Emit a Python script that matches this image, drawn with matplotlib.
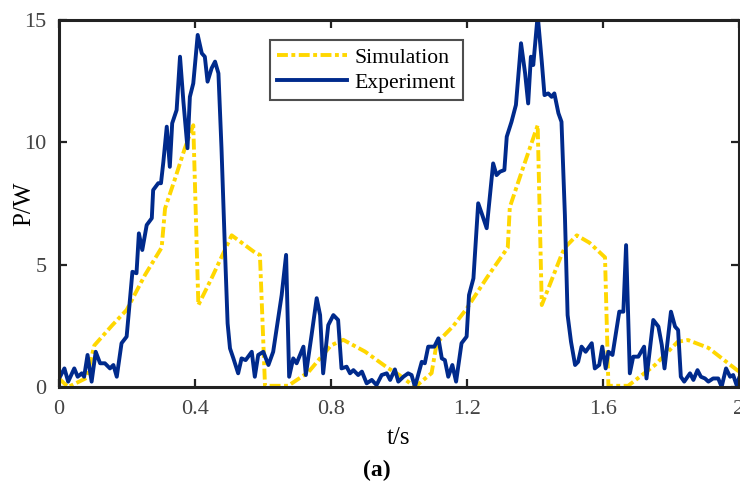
import matplotlib
matplotlib.use("Agg")
import matplotlib.pyplot as plt

plt.rcParams['font.family'] = ['Liberation Serif', 'DejaVu Serif']

# simulated power over two cycles
t_sim = [0.0, 0.027, 0.081, 0.104, 0.155, 0.199, 0.253, 0.302, 0.312, 0.341,
         0.37, 0.395, 0.41, 0.449, 0.508, 0.547, 0.576, 0.591, 0.606, 0.674,
         0.733, 0.80, 0.836, 0.9, 0.968, 1.0, 1.047, 1.096, 1.111, 1.16,
         1.199, 1.26, 1.32, 1.326, 1.361, 1.408, 1.42, 1.478, 1.488, 1.523,
         1.56, 1.606, 1.616, 1.674, 1.753, 1.82, 1.85, 1.91, 2.0]
p_sim = [0.35, 0.0, 0.37, 1.7, 2.5, 3.15, 4.58, 5.7, 7.3, 8.5,
         9.75, 10.7, 3.35, 4.45, 6.2, 5.8, 5.5, 5.4, 0.05, 0.05,
         0.6, 1.7, 1.93, 1.45, 0.77, 0.5, 0.0, 0.57, 1.8, 2.5,
         3.2, 4.5, 5.7, 7.35, 8.8, 10.7, 3.35, 5.4, 5.7, 6.2,
         5.9, 5.3, 0.05, 0.05, 0.9, 1.85, 1.92, 1.6, 0.63]

# measured power
t_exp = [0.003, 0.016, 0.027, 0.045, 0.055, 0.067, 0.074, 0.084, 0.096, 0.108,
         0.121, 0.135, 0.15, 0.16, 0.17, 0.184, 0.199, 0.216, 0.228, 0.235,
         0.245, 0.258, 0.273, 0.277, 0.292, 0.3, 0.307, 0.317, 0.326, 0.333,
         0.346, 0.356, 0.366, 0.378, 0.385, 0.395, 0.408, 0.42, 0.429, 0.437,
         0.449, 0.459, 0.469, 0.478, 0.488, 0.496, 0.503, 0.513, 0.527, 0.537,
         0.549, 0.567, 0.576, 0.586, 0.601, 0.616, 0.63, 0.655, 0.668, 0.677,
         0.689, 0.699, 0.719, 0.726, 0.743, 0.758, 0.768, 0.777, 0.792, 0.807,
         0.821, 0.831, 0.846, 0.856, 0.866, 0.88, 0.891, 0.905, 0.92, 0.934,
         0.949, 0.964, 0.974, 0.988, 0.998, 1.013, 1.027, 1.037, 1.047, 1.067,
         1.076, 1.086, 1.104, 1.116, 1.126, 1.135, 1.145, 1.157, 1.168, 1.184,
         1.199, 1.206, 1.219, 1.233, 1.245, 1.258, 1.277, 1.287, 1.297, 1.31,
         1.317, 1.331, 1.344, 1.359, 1.371, 1.38, 1.388, 1.395, 1.408, 1.42,
         1.428, 1.439, 1.449, 1.457, 1.469, 1.478, 1.488, 1.496, 1.506, 1.518,
         1.527, 1.537, 1.549, 1.567, 1.576, 1.589, 1.598, 1.608, 1.616, 1.628,
         1.648, 1.66, 1.668, 1.679, 1.689, 1.704, 1.721, 1.728, 1.748, 1.763,
         1.773, 1.781, 1.8, 1.812, 1.821, 1.829, 1.839, 1.856, 1.866, 1.878,
         1.888, 1.9, 1.91, 1.924, 1.939, 1.949, 1.962, 1.974, 1.983, 1.993,
         2.0]
p_exp = [0.42, 0.76, 0.22, 0.76, 0.42, 0.56, 0.42, 1.31, 0.22, 1.44,
         0.97, 0.97, 0.76, 0.9, 0.42, 1.79, 2.06, 4.71, 4.65, 6.28,
         5.6, 6.62, 6.9, 8.05, 8.33, 8.33, 9.2, 10.64, 9.0, 10.78,
         11.32, 13.5, 11.66, 9.76, 11.86, 12.41, 14.39, 13.64, 13.5, 12.48,
         13.03, 13.3, 12.82, 9.76, 5.67, 2.6, 1.58, 1.17, 0.56, 1.17,
         1.1, 1.44, 0.42, 1.31, 1.44, 0.9, 1.44, 3.76, 5.4, 0.42,
         1.17, 0.97, 1.65, 0.49, 2.13, 3.63, 2.94, 0.56, 2.53, 2.94,
         2.74, 0.76, 0.83, 0.56, 0.69, 0.49, 0.63, 0.15, 0.29, 0.08,
         0.49, 0.56, 0.29, 0.72, 0.22, 0.42, 0.56, 0.49, 0.01, 1.03,
         0.97, 1.65, 1.65, 1.99, 1.17, 1.1, 0.42, 0.9, 0.22, 1.79,
         2.06, 3.76, 4.44, 7.51, 7.03, 6.49, 9.14, 8.66, 8.8, 8.87,
         10.23, 10.84, 11.53, 14.05, 12.82, 11.59, 13.5, 13.16, 15.2, 13.3,
         11.93, 12.0, 11.86, 12.0, 11.19, 10.84, 7.03, 2.94, 1.85, 0.9,
         1.03, 1.65, 1.44, 1.79, 0.76, 0.9, 1.65, 0.76, 1.44, 1.31,
         3.08, 3.08, 5.8, 0.56, 1.24, 1.24, 1.65, 0.35, 2.74, 2.47,
         1.72, 0.76, 3.08, 2.47, 2.33, 0.42, 0.22, 0.56, 0.29, 0.69,
         0.42, 0.35, 0.22, 0.35, 0.35, 0.01, 0.76, 0.42, 0.49, 0.08,
         0.35]

x_ticks = [0, 0.4, 0.8, 1.2, 1.6, 2]
x_ticklabels = ['0', '0.4', '0.8', '1.2', '1.6', '2']
y_ticks = [0, 5, 10, 15]

fig = plt.figure(figsize=(7.4, 4.87), dpi=100)
ax = fig.add_axes([0.0797, 0.2053, 0.9189, 0.7536])

ax.plot(t_sim, p_sim, color='#ffd700', linewidth=2.8, dashes=(2.8, 0.9, 1.0, 0.9),
        label='Simulation')
ax.plot(t_exp, p_exp, color='#002a8c', linewidth=2.8, label='Experiment')

ax.set_xlim(0, 2)
ax.set_ylim(0, 15)
ax.set_xticks(x_ticks)
ax.set_xticklabels(x_ticklabels)
ax.set_yticks(y_ticks)
ax.tick_params(direction='in', top=True, right=True, length=6, width=1.6,
               labelsize=16, labelcolor='#444444', color='#222222', pad=9)
for s in ax.spines.values():
    s.set_linewidth(2.2)
    s.set_color('#222222')

ax.set_xlabel('t/s', fontsize=18, labelpad=6)
ax.set_ylabel('P/W', fontsize=18)
ax.yaxis.set_label_coords(-0.035, 0.5)

leg = ax.legend(loc='upper left', bbox_to_anchor=(0.31, 0.945), fontsize=15.6,
                frameon=True, fancybox=False, edgecolor='#222222',
                handlelength=3.2, handletextpad=0.35, borderpad=0.35,
                labelspacing=0.22, borderaxespad=0)
leg.get_frame().set_linewidth(1.5)

fig.text(0.509, 0.035, '(a)', fontsize=17, fontweight='bold', ha='center',
         va='center')

fig.savefig('out.png', dpi=100)
